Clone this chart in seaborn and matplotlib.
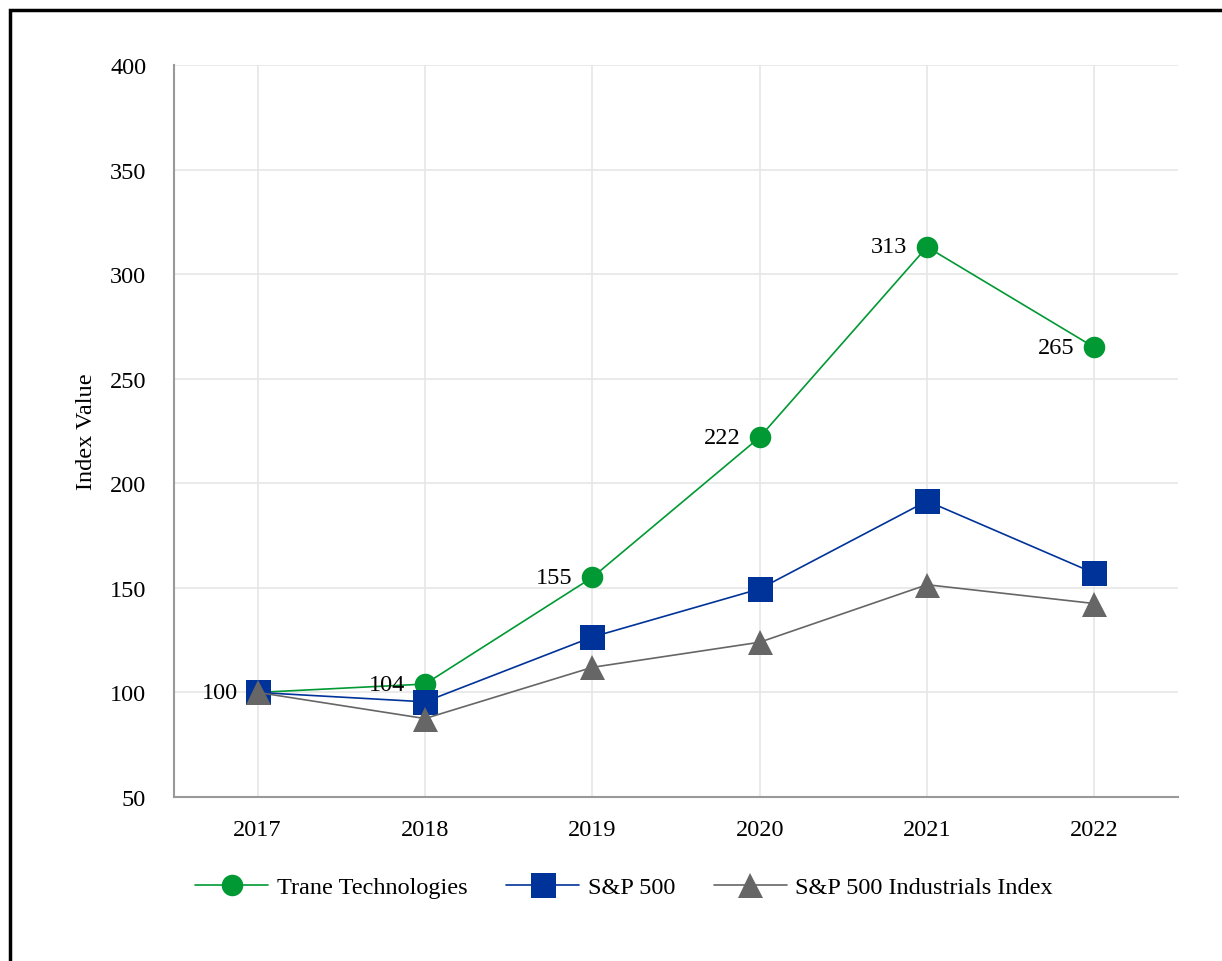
import numpy as np
import pandas as pd
import matplotlib.pyplot as plt
import matplotlib.patches as mpatches
import seaborn as sns

# Data
years = [2017, 2018, 2019, 2020, 2021, 2022]
trane = [100, 104, 155, 222, 313, 265]
sp500 = [100, 95.5, 126.5, 149.5, 191.5, 157]
industrials = [100, 87.5, 112, 124, 151.5, 142.5]

trane_labels = ["100", "104", "155", "222", "313", "265"]

sns.set_style("white")
plt.rcParams['font.family'] = ['Liberation Serif', 'DejaVu Serif']
plt.rcParams['text.color'] = 'black'
plt.rcParams['axes.labelcolor'] = 'black'

fs = 17.5

fig = plt.figure(figsize=(12.22, 9.62), dpi=100)
ax = fig.add_axes([174 / 1222, 1 - 798 / 962, (1178 - 174) / 1222, (798 - 66) / 962])

df = pd.DataFrame({"year": years, "trane": trane, "sp500": sp500, "ind": industrials})

sns.lineplot(data=df, x="year", y="trane", ax=ax, color="#009933", marker="o",
             markersize=15.5, linewidth=1.2, markeredgewidth=0, label="Trane Technologies")
sns.lineplot(data=df, x="year", y="sp500", ax=ax, color="#003399", marker="s",
             markersize=18, linewidth=1.2, markeredgewidth=0, label="S&P 500")
sns.lineplot(data=df, x="year", y="ind", ax=ax, color="#666666", marker="^",
             markersize=18, linewidth=1.2, markeredgewidth=0, label="S&P 500 Industrials Index")

for x, y, t in zip(years, trane, trane_labels):
    ax.annotate(t, (x, y), xytext=(-14, 0), textcoords="offset points",
                ha="right", va="center", fontsize=fs, color="black")

ax.set_xlim(2016.5, 2022.5)
ax.set_ylim(50, 400)
ax.set_xticks(years)
ax.set_xticklabels([str(y) for y in years])
ax.set_yticks(range(50, 401, 50))
ax.tick_params(axis="both", labelsize=fs, colors="#999999", labelcolor="black",
               length=7, width=1.2, direction="out")
ax.tick_params(axis="x", pad=9)
ax.tick_params(axis="y", pad=13)
ax.grid(True, color="#e6e6e6", linewidth=1.2)
ax.set_axisbelow(True)
for s in ["top", "right"]:
    ax.spines[s].set_visible(False)
for s in ["left", "bottom"]:
    ax.spines[s].set_color("#999999")
    ax.spines[s].set_linewidth(1.5)

ax.set_xlabel("")
ax.set_ylabel("Index Value", fontsize=fs, labelpad=9)

handles, labels = ax.get_legend_handles_labels()
ax.get_legend().remove()
fig.legend(handles, labels, loc="center", bbox_to_anchor=(624 / 1222, 1 - 888 / 962),
           ncol=3, frameon=False, fontsize=fs, handlelength=3.0, columnspacing=1.6,
           handletextpad=0.35)

# outer frame
frame = mpatches.Rectangle((10 / 1222, -0.1), 1.2, 1 - 11 / 962 + 0.1,
                           transform=fig.transFigure, fill=False,
                           edgecolor="black", linewidth=2.5)
fig.patches.append(frame)

fig.savefig("out.png", dpi=100)
